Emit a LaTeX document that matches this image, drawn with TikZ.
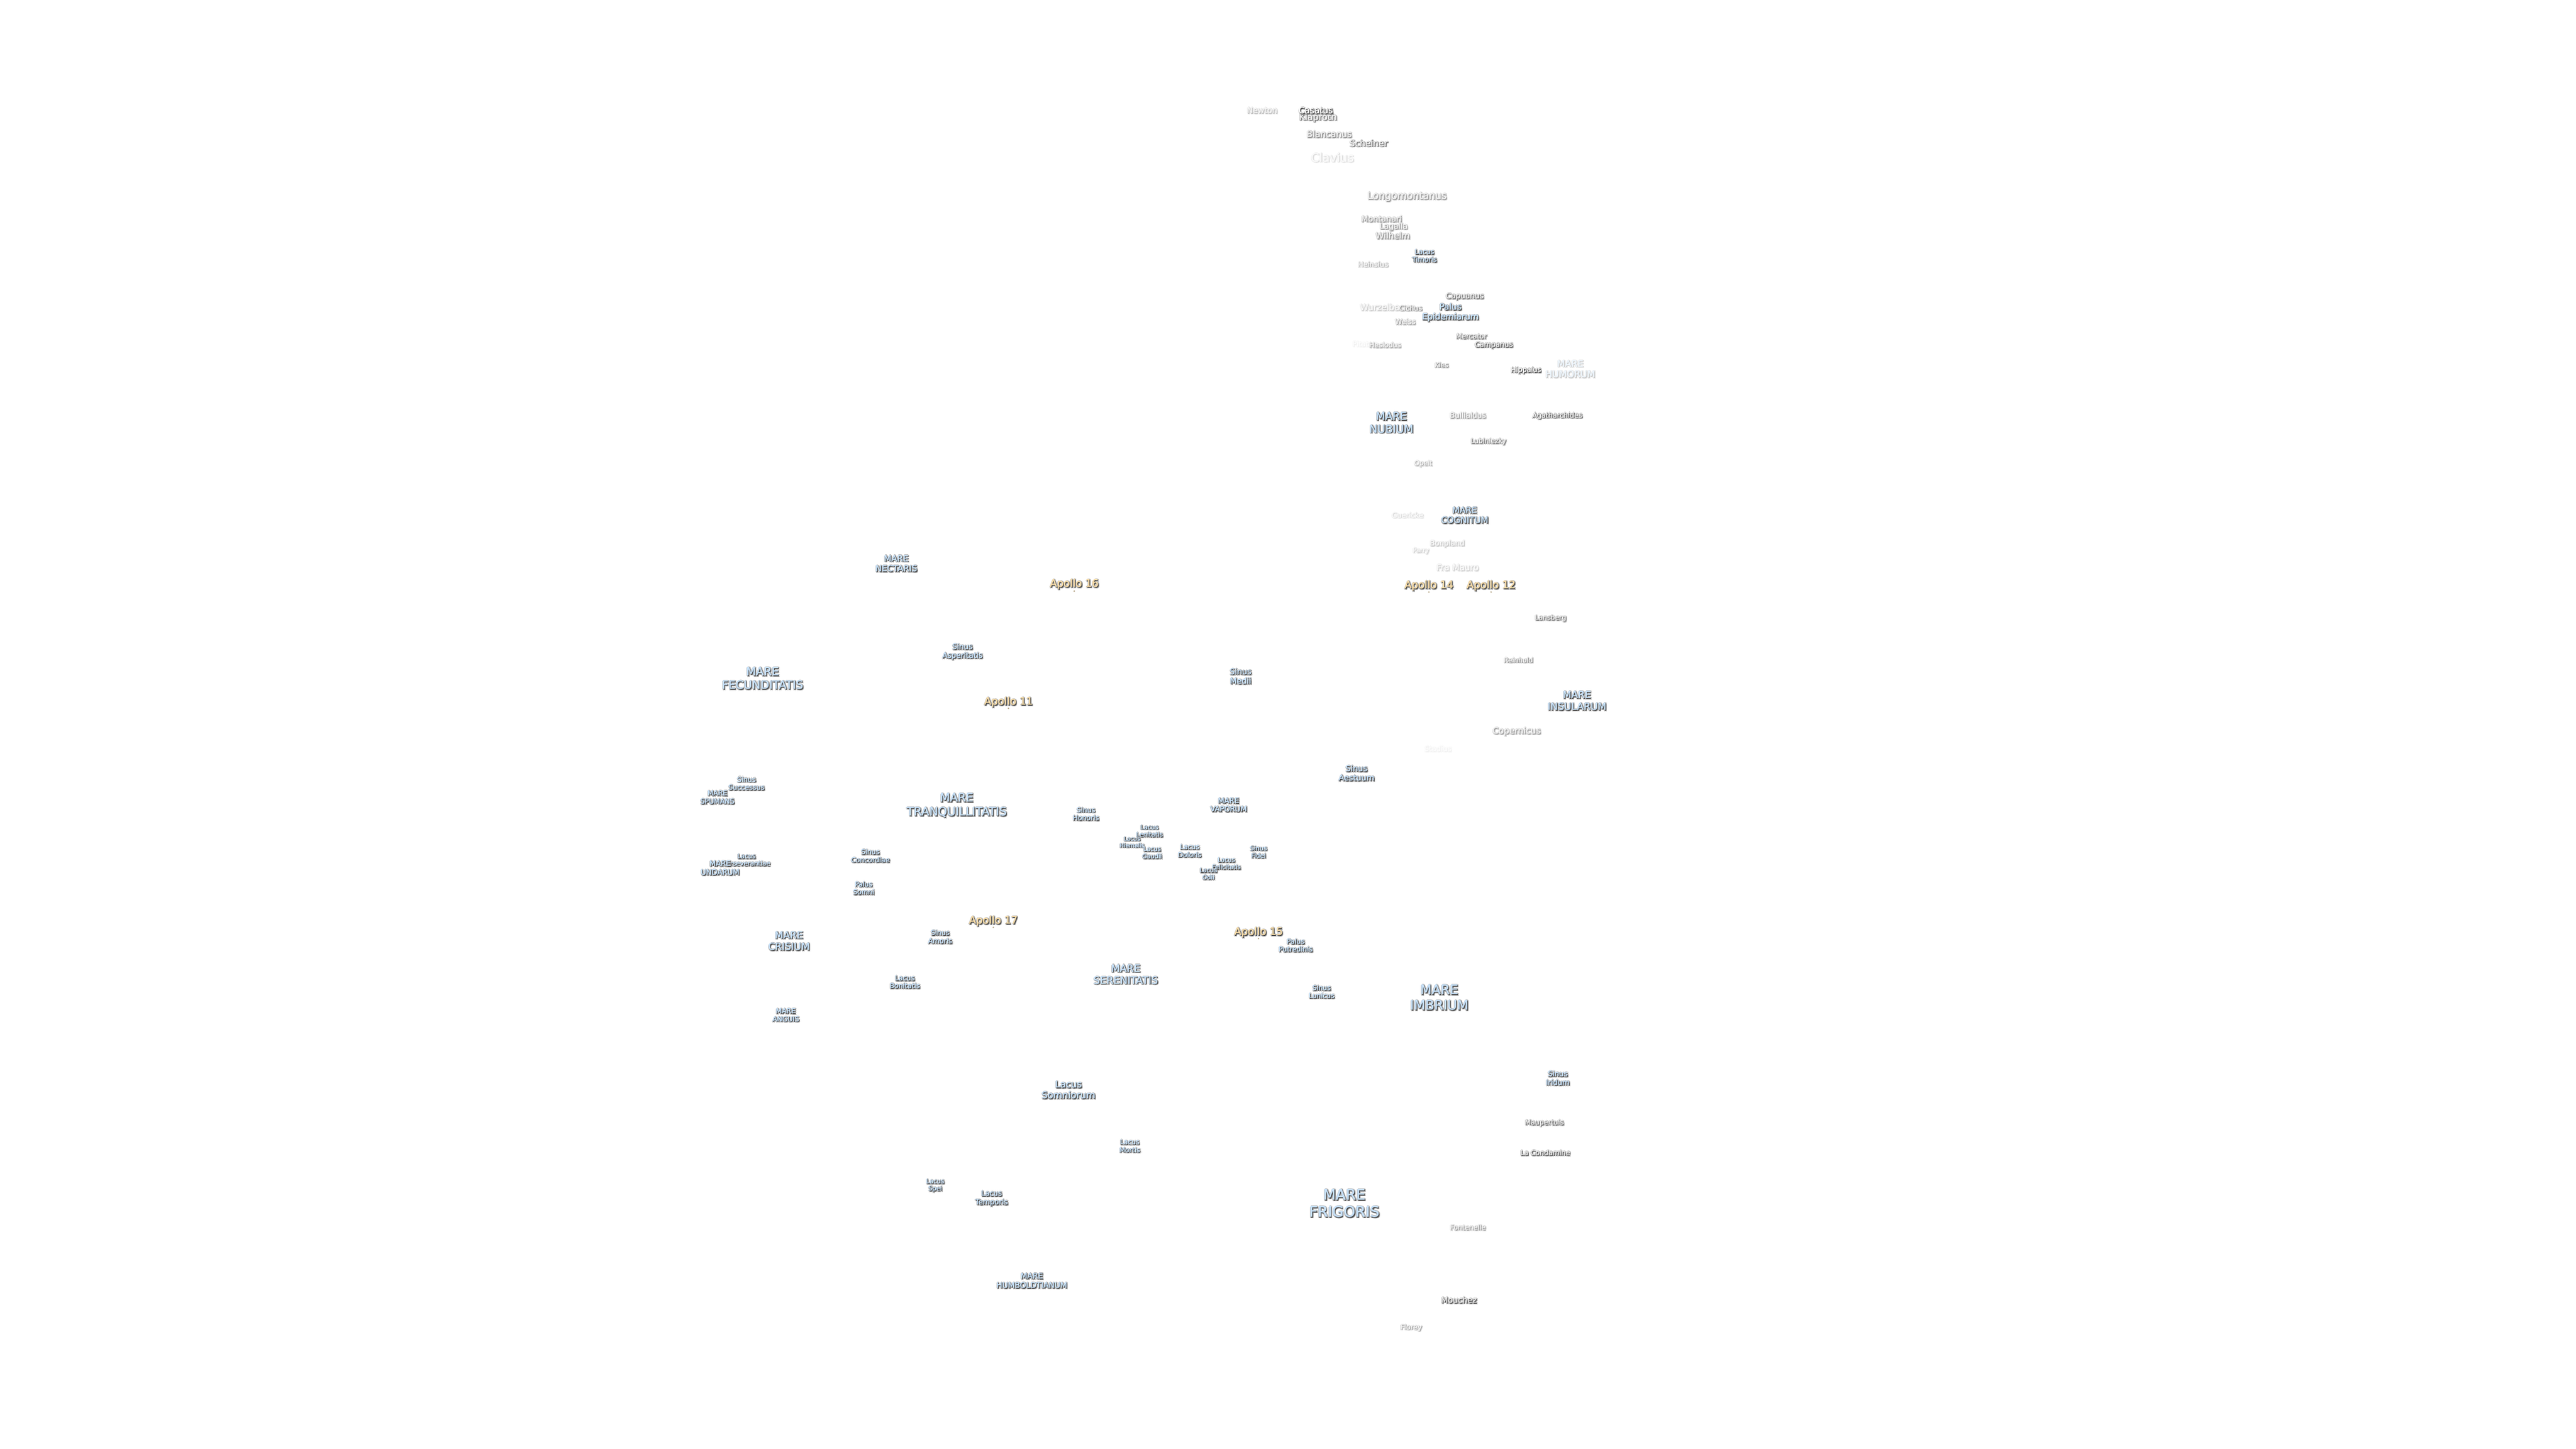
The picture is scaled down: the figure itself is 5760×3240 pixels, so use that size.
\documentclass[tikz,border=0pt]{standalone}
\usepackage{fontspec}
\setmainfont{DejaVu Sans}
\definecolor{seablue}{HTML}{C6E0F8}
\definecolor{cratergray}{HTML}{E6E6E6}
\definecolor{apollosand}{HTML}{F8DCA8}
\definecolor{halogray}{HTML}{B0B0B0}
\definecolor{edgegray}{HTML}{4C4C4C}
\tikzset{x=0.1pt,y=-0.1pt,
         namelayer/.style={inner sep=0pt,outer sep=0pt,align=center},
         landingdot/.style={circle,fill=#1,draw=none,minimum size=0.35pt,inner sep=0pt},
        }
\newcommand{\moonname}[6]{%
        \pgfmathsetlengthmacro\linegap{1.17*#4pt}
        \foreach \sx/\sy in {0/.32,.32/0,.32/.32,-.12/.12,.12/-.12}
            \node[namelayer,xshift=\sx pt,yshift=-\sy pt,text=halogray!#5!white,font=\fontsize{#4}{\linegap}\selectfont] at (#3) {#6};
        \foreach \sx/\sy in {.2/.2,.13/.13}
            \node[namelayer,xshift=\sx pt,yshift=-\sy pt,text=edgegray!#5!white,font=\fontsize{#4}{\linegap}\selectfont] at (#3) {#6};
        \foreach \sx/\sy in {-.03/0,.03/0}
            \node[namelayer,xshift=\sx pt,yshift=-\sy pt,text=#1!#5!white,font=\fontsize{#4}{\linegap}\selectfont] at (#3) {#6};
        \node[namelayer,text=#1!#5!white,font=\fontsize{#4}{\linegap}\selectfont] (#2) at (#3) {#6};
}

\begin{document}
\begin{tikzpicture}
        \useasboundingbox (0,0) rectangle (5760,3240);
        \moonname{cratergray}{newton}{2822,247}{1.77}{35}{Newton}
        \moonname{cratergray}{klaproth}{2947,263}{2.0}{75}{Klaproth}
        \moonname{white}{casatus}{2942,247}{1.92}{100}{Casatus}
        \moonname{cratergray}{blancanus}{2972,300}{1.95}{60}{Blancanus}
        \moonname{cratergray}{scheiner}{3060,320}{1.95}{80}{Scheiner}
        \moonname{cratergray}{clavius}{2979,352}{2.65}{20}{Clavius}
        \moonname{cratergray}{longomontanus}{3146,440}{2.2}{55}{Longomontanus}
        \moonname{cratergray}{montanari}{3089,489}{1.8}{55}{Montanari}
        \moonname{cratergray}{lagalla}{3116,507}{1.74}{55}{Lagalla}
        \moonname{cratergray}{wilhelm}{3114,527}{1.9}{60}{Wilhelm}
        \moonname{seablue}{timoris}{3185,572}{1.5}{100}{Lacus\\Timoris}
        \moonname{cratergray}{heinsius}{3070,591}{1.6}{40}{Heinsius}
        \moonname{cratergray}{capuanus}{3275,663}{1.7}{75}{Capuanus}
        \moonname{cratergray}{wurzelbauer}{3101,687}{1.9}{28}{Wurzelbauer}
        \moonname{cratergray}{cichus}{3154,689}{1.55}{65}{Cichus}
        \moonname{seablue}{epidemiarum}{3243,699}{1.9}{100}{Palus\\Epidemiarum}
        \moonname{cratergray}{weiss}{3142,719}{1.6}{50}{Weiss}
        \moonname{cratergray}{mercator}{3290,752}{1.55}{75}{Mercator}
        \moonname{cratergray}{campanus}{3340,772}{1.6}{85}{Campanus}
        \moonname{cratergray}{pitatus}{3051,769}{1.6}{8}{Pitatus}
        \moonname{cratergray}{hesiodus}{3097,771}{1.55}{45}{Hesiodus}
        \moonname{cratergray}{kies}{3223,816}{1.5}{60}{Kies}
        \moonname{white}{hippalus}{3412,828}{1.55}{100}{Hippalus}
        \moonname{seablue}{humorum}{3511,825}{2.05}{30}{MARE\\HUMORUM}
        \moonname{seablue}{nubium}{3111,945}{2.42}{100}{MARE\\NUBIUM}
        \moonname{cratergray}{bullialdus}{3282,929}{1.67}{50}{Bullialdus}
        \moonname{cratergray}{agatharchides}{3482,930}{1.55}{90}{Agatharchides}
        \moonname{cratergray}{lubiniezky}{3328,987}{1.5}{70}{Lubiniezky}
        \moonname{cratergray}{opelt}{3182,1037}{1.47}{40}{Opelt}
        \moonname{cratergray}{guericke}{3147,1152}{1.6}{20}{Guericke}
        \moonname{seablue}{cognitum}{3275,1152}{1.92}{100}{MARE\\COGNITUM}
        \moonname{cratergray}{bonpland}{3236,1216}{1.64}{30}{Bonpland}
        \moonname{cratergray}{parry}{3177,1232}{1.4}{25}{Parry}
        \moonname{cratergray}{framauro}{3259,1269}{1.9}{25}{Fra Mauro}
        \moonname{apollosand}{apollofourteen}{3195,1310}{2.33}{100}{Apollo 14}
        \node[landingdot=apollosand!60!edgegray] (sitefourteen) at (3195,1324) {};
        \moonname{apollosand}{apollotwelve}{3334,1310}{2.33}{100}{Apollo 12}
        \node[landingdot=apollosand!60!edgegray] (sitetwelve) at (3334,1324) {};
        \moonname{cratergray}{lansberg}{3467,1382}{1.52}{70}{Lansberg}
        \moonname{cratergray}{reinhold}{3395,1476}{1.5}{60}{Reinhold}
        \moonname{seablue}{insularum}{3526,1567}{2.2}{100}{MARE\\INSULARUM}
        \moonname{cratergray}{copernicus}{3391,1636}{1.93}{50}{Copernicus}
        \moonname{cratergray}{stadius}{3215,1674}{1.63}{8}{Stadius}
        \moonname{seablue}{aestuum}{3033,1729}{1.8}{100}{Sinus\\Aestuum}
        \moonname{seablue}{medii}{2774,1512}{1.78}{100}{Sinus\\Medii}
        \moonname{seablue}{vaporum}{2747,1800}{1.64}{100}{MARE\\VAPORUM}
        \moonname{seablue}{honoris}{2428,1820}{1.53}{100}{Sinus\\Honoris}
        \moonname{seablue}{lenitatis}{2570,1858}{1.4}{100}{Lacus\\Lenitatis}
        \moonname{seablue}{hiemalis}{2531,1883}{1.28}{100}{Lacus\\Hiemalis}
        \moonname{seablue}{gaudii}{2576,1907}{1.36}{100}{Lacus\\Gaudii}
        \moonname{seablue}{doloris}{2660,1903}{1.5}{100}{Lacus\\Doloris}
        \moonname{seablue}{fidei}{2814,1905}{1.4}{100}{Sinus\\Fidei}
        \moonname{seablue}{felicitatis}{2742,1931}{1.35}{100}{Lacus\\Felicitatis}
        \moonname{seablue}{odii}{2702,1954}{1.35}{100}{Lacus\\Odii}
        \moonname{apollosand}{apollofifteen}{2814,2085}{2.32}{100}{Apollo 15}
        \node[landingdot=apollosand!60!edgegray] (sitefifteen) at (2814,2099) {};
        \moonname{seablue}{putredinis}{2897,2114}{1.53}{100}{Palus\\Putredinis}
        \moonname{seablue}{serenitatis}{2517,2179}{2.28}{100}{MARE\\SERENITATIS}
        \moonname{seablue}{lunicus}{2955,2218}{1.51}{100}{Sinus\\Lunicus}
        \moonname{seablue}{imbrium}{3218,2231}{2.95}{100}{MARE\\IMBRIUM}
        \moonname{seablue}{successus}{1669,1752}{1.55}{100}{Sinus\\Successus}
        \moonname{seablue}{spumans}{1604,1783}{1.55}{100}{MARE\\SPUMANS}
        \moonname{seablue}{tranquillitatis}{2139,1801}{2.6}{100}{MARE\\TRANQUILLITATIS}
        \moonname{seablue}{perseverantiae}{1669,1923}{1.42}{100}{Lacus\\Perseverantiae}
        \moonname{seablue}{undarum}{1610,1941}{1.66}{100}{MARE\\UNDARUM}
        \moonname{seablue}{concordiae}{1946,1914}{1.53}{100}{Sinus\\Concordiae}
        \moonname{seablue}{somni}{1931,1986}{1.5}{100}{Palus\\Somni}
        \moonname{apollosand}{apolloseventeen}{2221,2060}{2.32}{100}{Apollo 17}
        \node[landingdot=apollosand!60!edgegray] (siteseventeen) at (2221,2074) {};
        \moonname{seablue}{crisium}{1764,2104}{2.2}{100}{MARE\\CRISIUM}
        \moonname{seablue}{amoris}{2102,2095}{1.54}{100}{Sinus\\Amoris}
        \moonname{seablue}{bonitatis}{2023,2196}{1.53}{100}{Lacus\\Bonitatis}
        \moonname{seablue}{anguis}{1757,2270}{1.54}{100}{MARE\\ANGUIS}
        \moonname{seablue}{nectaris}{2004,1260}{1.9}{100}{MARE\\NECTARIS}
        \moonname{apollosand}{apollosixteen}{2402,1306}{2.32}{100}{Apollo 16}
        \node[landingdot=apollosand!60!edgegray] (sitesixteen) at (2402,1322) {};
        \moonname{seablue}{asperitatis}{2152,1457}{1.68}{100}{Sinus\\Asperitatis}
        \moonname{seablue}{fecunditatis}{1705,1517}{2.55}{100}{MARE\\FECUNDITATIS}
        \moonname{apollosand}{apolloeleven}{2255,1570}{2.32}{100}{Apollo 11}
        \node[landingdot=apollosand!60!edgegray] (siteeleven) at (2255,1584) {};
        \moonname{seablue}{iridum}{3483,2411}{1.64}{100}{Sinus\\Iridum}
        \moonname{cratergray}{maupertuis}{3453,2511}{1.55}{80}{Maupertuis}
        \moonname{cratergray}{condamine}{3455,2578}{1.55}{90}{La Condamine}
        \moonname{cratergray}{fontenelle}{3282,2745}{1.53}{50}{Fontenelle}
        \moonname{cratergray}{mouchez}{3262,2907}{1.8}{90}{Mouchez}
        \moonname{cratergray}{florey}{3155,2969}{1.58}{50}{Florey}
        \moonname{seablue}{frigoris}{3006,2691}{3.3}{100}{MARE\\FRIGORIS}
        \moonname{seablue}{somniorum}{2389,2437}{2.08}{100}{Lacus\\Somniorum}
        \moonname{seablue}{mortis}{2526,2563}{1.5}{100}{Lacus\\Mortis}
        \moonname{seablue}{spei}{2091,2651}{1.4}{100}{Lacus\\Spei}
        \moonname{seablue}{temporis}{2217,2680}{1.62}{100}{Lacus\\Temporis}
        \moonname{seablue}{humboldtianum}{2307,2864}{1.74}{100}{MARE\\HUMBOLDTIANUM}
    \end{tikzpicture}
\end{document}
